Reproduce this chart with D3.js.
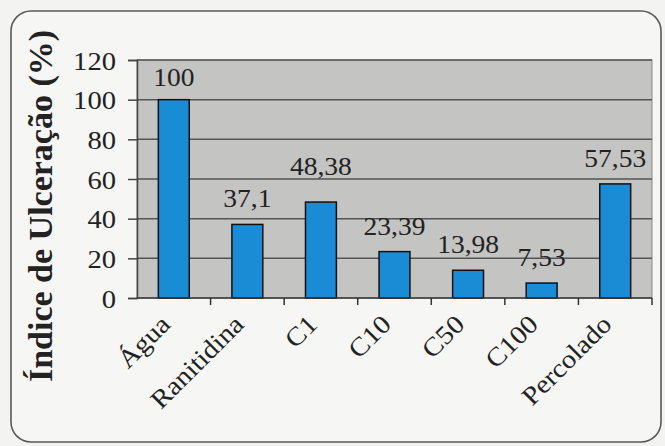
<!DOCTYPE html>
<html>
<head>
<meta charset="utf-8">
<script src="https://cdn.jsdelivr.net/npm/d3@7"></script>
<style>
  html, body { margin: 0; padding: 0; background: #f3f3f1; }
  svg { display: block; }
</style>
</head>
<body>
<svg id="chart" width="665" height="446"></svg>
<script>
// Treatment groups and their ulceration index (%)
const categories = ["Água", "Ranitidina", "C1", "C10", "C50", "C100", "Percolado"];
const values = [100, 37.1, 48.38, 23.39, 13.98, 7.53, 57.53];
const valueLabels = ["100", "37,1", "48,38", "23,39", "13,98", "7,53", "57,53"];
const yTicks = [0, 20, 40, 60, 80, 100, 120];
const yTitle = "Índice de Ulceração (%)";

const svg = d3.select("#chart");
const W = 665, H = 446;
const plot = { left: 137, right: 652, top: 60, bottom: 298 };
const serif = "'Liberation Serif', 'Times New Roman', serif";
const stretch = 1.1; // slightly wide lettering

// page background and rounded frame
svg.append("rect").attr("width", W).attr("height", H).attr("fill", "#f3f3f1");
svg.append("rect")
  .attr("x", 11).attr("y", 11).attr("width", 650).attr("height", 431)
  .attr("rx", 20).attr("ry", 20)
  .attr("fill", "#f6f6f4").attr("stroke", "#5a5a5a").attr("stroke-width", 1.6);

const x = d3.scaleBand()
  .domain(categories)
  .range([plot.left, plot.right])
  .paddingInner(0.58)
  .paddingOuter(0.29);

const y = d3.scaleLinear().domain([0, 120]).range([plot.bottom, plot.top]);

// plot area
svg.append("rect")
  .attr("x", plot.left).attr("y", plot.top)
  .attr("width", plot.right - plot.left).attr("height", plot.bottom - plot.top)
  .attr("fill", "#c4c4c3").attr("stroke", "#8a8a8a").attr("stroke-width", 1);

// horizontal gridlines
svg.append("g").selectAll("line")
  .data(yTicks.filter(d => d > 0))
  .join("line")
  .attr("x1", plot.left).attr("x2", plot.right)
  .attr("y1", d => y(d)).attr("y2", d => y(d))
  .attr("stroke", "#555").attr("stroke-width", 1.5);

// bars
svg.append("g").selectAll("rect")
  .data(categories)
  .join("rect")
  .attr("x", d => x(d))
  .attr("width", x.bandwidth())
  .attr("y", (d, i) => y(values[i]))
  .attr("height", (d, i) => y(0) - y(values[i]))
  .attr("fill", "#1a8bd5")
  .attr("stroke", "#111").attr("stroke-width", 1.5);

// y axis
const yAxis = svg.append("g")
  .attr("transform", `translate(${plot.left},0)`)
  .call(d3.axisLeft(y).tickValues(yTicks).tickSize(9).tickPadding(0).tickFormat(d3.format("d")));
yAxis.select(".domain").attr("stroke", "#444").attr("stroke-width", 1.5);
yAxis.selectAll(".tick line").attr("stroke", "#444").attr("stroke-width", 1.5);
yAxis.selectAll(".tick text")
  .attr("x", 0).attr("dy", null)
  .attr("transform", `translate(-21,0) scale(${stretch},1) translate(0,9)`)
  .attr("font-family", serif).attr("font-size", 26).attr("fill", "#222");

// x axis: ticks sit on the category boundaries
const boundaries = d3.range(1, categories.length + 1).map(i => plot.left + i * x.step());
const xAxisG = svg.append("g");
xAxisG.append("line")
  .attr("x1", plot.left).attr("x2", plot.right)
  .attr("y1", plot.bottom).attr("y2", plot.bottom)
  .attr("stroke", "#333").attr("stroke-width", 1.6);
xAxisG.selectAll("line.tk")
  .data(boundaries)
  .join("line").attr("class", "tk")
  .attr("x1", d => d).attr("x2", d => d)
  .attr("y1", plot.bottom).attr("y2", plot.bottom + 7)
  .attr("stroke", "#333").attr("stroke-width", 1.5);

// rotated category labels
xAxisG.selectAll("text")
  .data(categories)
  .join("text")
  .attr("transform", d => `translate(${x(d) + x.bandwidth() / 2 - 2},${plot.bottom + 28}) rotate(-45) scale(${stretch},1)`)
  .attr("text-anchor", "end")
  .attr("font-family", serif).attr("font-size", 26).attr("fill", "#222")
  .text(d => d);

// value labels above bars
const labelLift = { "C1": 10 };
svg.append("g").selectAll("text")
  .data(categories)
  .join("text")
  .attr("transform", (d, i) => {
    const ty = Math.max(y(values[i]) - 17 - (labelLift[d] || 0), plot.top + 26);
    return `translate(${x(d) + x.bandwidth() / 2},${ty}) scale(${stretch},1)`;
  })
  .attr("text-anchor", "middle")
  .attr("font-family", serif).attr("font-size", 25).attr("fill", "#222")
  .text((d, i) => valueLabels[i]);

// y axis title
svg.append("text")
  .attr("transform", `translate(52,206) rotate(-90)`)
  .attr("text-anchor", "middle")
  .attr("font-family", serif).attr("font-weight", "bold").attr("font-size", 34)
  .attr("fill", "#222")
  .text(yTitle);
</script>
</body>
</html>
